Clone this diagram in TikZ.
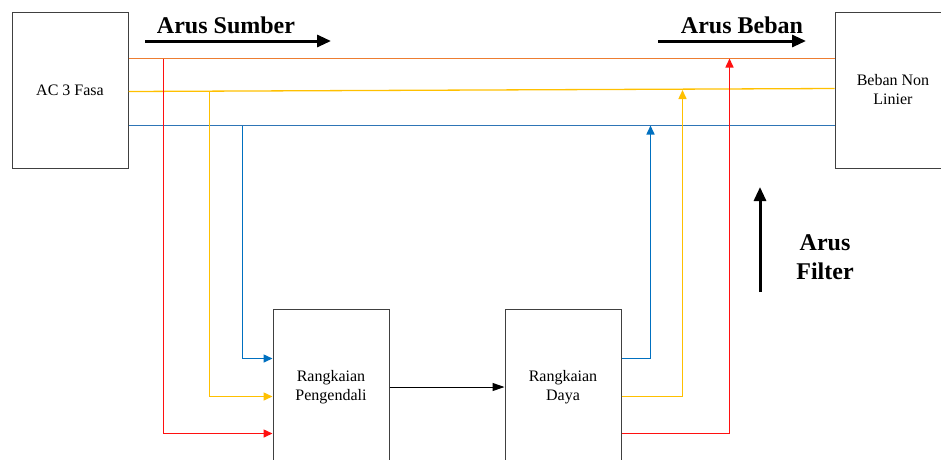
\documentclass[tikz,border=0pt]{standalone}
\usepackage{fontspec}
\setmainfont{Liberation Serif}
\usetikzlibrary{arrows.meta}
\definecolor{phaseR}{HTML}{FF1010}
\definecolor{phaseRh}{HTML}{ED7D31}
\definecolor{phaseS}{HTML}{FFC000}
\definecolor{phaseT}{HTML}{0070C0}
\definecolor{phaseTh}{HTML}{2E75B6}
\definecolor{boxline}{HTML}{404040}
\tikzset{
  x=1pt, y=-1pt,
  block/.style={draw=boxline, line width=1pt, minimum width=116pt, minimum height=156pt,
    anchor=north west, align=center, inner sep=0pt,
    font=\fontsize{16}{19}\selectfont},
  wire/.style={line width=1.3pt},
  feed/.style={line width=1.5pt, -{Triangle[length=9pt,width=8pt]}},
  bigarrow/.style={line width=3pt, -{Triangle[length=14pt,width=12pt]}},
  biglabel/.style={font=\fontsize{24}{29}\selectfont\bfseries, align=center, inner sep=0pt},
}
\begin{document}
\begin{tikzpicture}
\useasboundingbox (0,0) rectangle (941,459);

% blocks
\node[block] (ac)    at (11.5,11.5)   {AC 3 Fasa};
\node[block] (load)  at (834.5,11.5)  {Beban Non\\Linier};
\node[block] (ctrl)  at (272.5,308.5) {Rangkaian\\Pengendali};
\node[block] (power) at (504.5,308.5) {Rangkaian\\Daya};

% three-phase bus lines
\coordinate (rA) at (ac.east |- 0,58.5);
\coordinate (rB) at (load.west |- 0,58.5);
\coordinate (sA) at (ac.east |- 0,91.5);
\coordinate (sB) at (load.west |- 0,88.5);
\coordinate (tA) at (ac.east |- 0,125.5);
\coordinate (tB) at (load.west |- 0,125.5);
\draw[wire, draw=phaseRh] (rA) -- (rB);
\draw[wire, draw=phaseS]  (sA) -- (sB);
\draw[wire, draw=phaseTh] (tA) -- (tB);

% taps from the source side into the controller
\coordinate (rTap) at (163.5,58.5);
\coordinate (sTap) at (209.5,91.5);
\coordinate (tTap) at (242.5,125.5);
\coordinate (rIn) at (ctrl.west |- 0,433.5);
\coordinate (sIn) at (ctrl.west |- 0,396.5);
\coordinate (tIn) at (ctrl.west |- 0,358.5);
\draw[feed, draw=phaseR]  (rTap) |- (rIn);
\draw[feed, draw=phaseS]  (sTap) |- (sIn);
\draw[feed, draw=phaseT]  (tTap) |- (tIn);

% controller to power stage
\draw[line width=1pt, draw=black, -{Triangle[length=12pt,width=8pt]}] (ctrl.east) -- (power.west);

% injection from the power stage back to the bus
\coordinate (tOut) at (power.east |- 0,358.5);
\coordinate (sOut) at (power.east |- 0,396.5);
\coordinate (rOut) at (power.east |- 0,433.5);
\coordinate (tJoin) at (650.5,125.5);
\coordinate (sJoin) at (682.5,90);
\coordinate (rJoin) at (729.5,58.5);
\draw[feed, draw=phaseT] (tOut) -| (tJoin);
\draw[feed, draw=phaseS] (sOut) -| (sJoin);
\draw[feed, draw=phaseR] (rOut) -| (rJoin);

% current direction labels
\node[biglabel] (lblSrc) at (226,25) {Arus Sumber};
\coordinate (srcA) at (145,41);
\coordinate (srcB) at (331,41);
\draw[bigarrow] (srcA) -- (srcB);

\node[biglabel] (lblLoad) at (742,25) {Arus Beban};
\coordinate (loadA) at (658,41);
\coordinate (loadB) at (806,41);
\draw[bigarrow] (loadA) -- (loadB);

\node[biglabel] (lblFilt) at (825,257) {Arus\\Filter};
\coordinate (filtA) at (760,292);
\coordinate (filtB) at (760,187);
\draw[bigarrow] (filtA) -- (filtB);
\end{tikzpicture}
\end{document}
